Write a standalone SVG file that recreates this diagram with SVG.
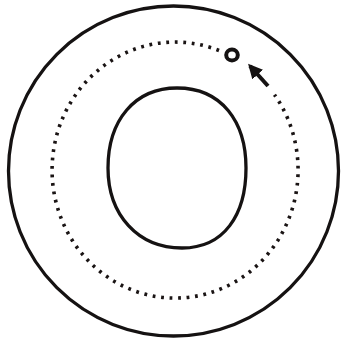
<svg xmlns="http://www.w3.org/2000/svg" width="342" height="340" viewBox="0 0 342 340">
<style>
.line{fill:none;stroke:#151212;stroke-width:3.3}
.dots{fill:none;stroke:#1a1414;stroke-width:3.6;stroke-dasharray:2.8 5.7}
</style>
<defs>
<marker id="ah" viewBox="0 0 10 10" refX="8" refY="5" markerWidth="3.6" markerHeight="3.6" orient="auto" markerUnits="strokeWidth">
<path d="M0,0 L10,5 L0,10 Z" fill="#151212"/>
</marker>
</defs>
<rect width="342" height="340" fill="#fff"/>
<g id="outer"><ellipse class="line" cx="173.5" cy="171" rx="165" ry="165"/></g>
<g id="inner"><path class="line" d="M177,88 C222,88 246,122 246,168 C246,215 224,248 182,248 C138,248 108,215 108,168 C108,120 135,88 177,88 Z"/></g>
<g id="orbit"><path class="dots" d="M219,50.5 A123,128 0 1 0 274.5,94.7"/></g>
<g id="particle"><ellipse cx="232" cy="55" rx="5.8" ry="5.5" fill="none" stroke="#151212" stroke-width="4"/></g>
<g id="connectors"><line x1="268" y1="86" x2="250" y2="66" stroke="#151212" stroke-width="4" marker-end="url(#ah)"/></g>
</svg>
